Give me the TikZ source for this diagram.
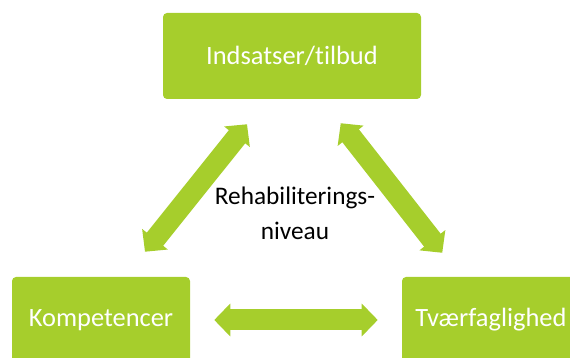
\documentclass[tikz,border=0pt]{standalone}
\usepackage{fontspec}
\setmainfont{Carlito}[Ligatures=CommonOff]
\usetikzlibrary{arrows.meta,positioning}
\definecolor{leaf}{RGB}{166,206,44}

\begin{document}
\begin{tikzpicture}[on grid,
   box/.style={fill=leaf,rounded corners=0.1cm,minimum width=4.45cm,minimum height=2.15cm,
               inner sep=0pt,text=white,font=\fontsize{18.8}{22}\selectfont},
   dblarrow/.style={leaf,line width=0.525cm,>={Triangle[width=0.8cm,length=0.4cm]},<->}]
   \useasboundingbox (0,0) rectangle (14.25,8.95);
   \clip (0,0) rectangle (14.25,8.95);
   \node[box,minimum width=6.45cm] (top) at (7.3,7.55) {Indsatser/tilbud};
   \node[box](komp) [below left=6.6cm and 4.775cm of top] {Kompetencer};
   \node[box](tvaer) [below right=6.6cm and 4.975cm of top] {Tværfaglighed};
   \node[align=center,font=\fontsize{18}{24.9}\selectfont] (niveau) at (7.375,3.62) {Rehabiliterings-\\niveau};
    \path[dblarrow]
    ([xshift=0.6cm]komp.north) edge [shorten <=0.8cm, shorten >=0.8cm] ([xshift=-0.625cm]top.south)
    ([xshift=0.75cm]top.south) edge [shorten <=0.76cm, shorten >=0.76cm] ([xshift=-0.75cm]tvaer.north)
    (komp) edge [shorten <=0.6cm, shorten >=0.6cm] (tvaer);

\end{tikzpicture}
\end{document}
